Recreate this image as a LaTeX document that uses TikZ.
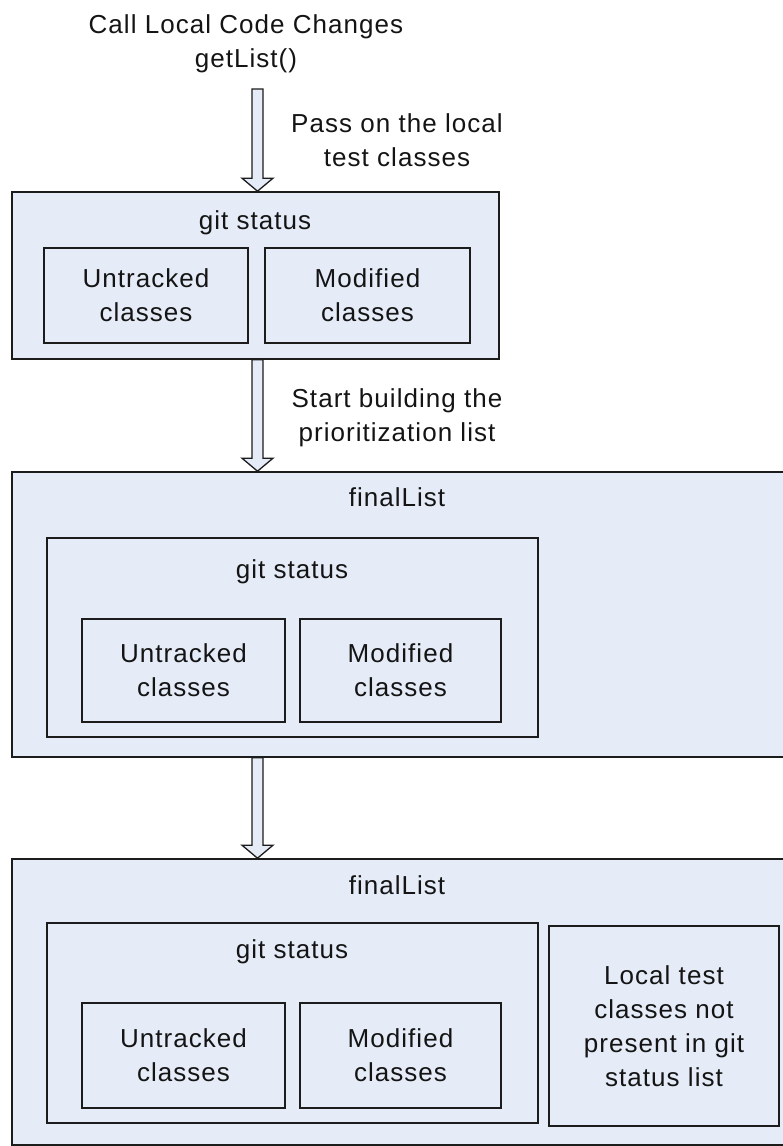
\documentclass[tikz,border=0pt]{standalone}
\usepackage{fontspec}
\setmainfont{Liberation Sans}[LetterSpace=4]
\usetikzlibrary{calc}
\definecolor{boxfill}{HTML}{E5ECF7}
\definecolor{edge}{HTML}{1C1C1C}
% hollow block arrow from the start point #1 down to the tip #2
\newcommand{\hollowarrow}[2]{%
  \filldraw[blockarrow]
    ($(#1)+(-5.5,0)$) -- ($(#2)+(-5.5,-13)$) -- ($(#2)+(-15.5,-13)$) -- (#2)
    -- ($(#2)+(15.5,-13)$) -- ($(#2)+(5.5,-13)$) -- ($(#1)+(5.5,0)$) -- cycle;}
\begin{document}
\begin{tikzpicture}[x=1pt,y=-1pt,
  every node/.style={font=\fontsize{26}{34}\selectfont, text=black!92, align=center, inner sep=0pt},
  panel/.style={draw=edge, line width=1.6pt, fill=boxfill, inner sep=0pt},
  blockarrow/.style={draw=edge, line width=1.3pt, fill=boxfill, line join=miter}]
\useasboundingbox (0,0) rectangle (783,1146);

% heading and step labels
\node (title) at (246,44) {Call Local Code Changes\\getList()};
\node (lab1) at (397,140) {Pass on the local\\test classes};
\node (lab2) at (397,418) {Start building the\\prioritization list};

% first panel: git status
\node[panel, minimum width=487pt, minimum height=167pt] (b1) at (255.5,275.5) {};
\node (b1t) at (255,223) {git status};
\node[panel, minimum width=204pt, minimum height=95pt] (u1) at (146,295.5) {Untracked\\classes};
\node[panel, minimum width=205pt, minimum height=95pt] (m1) at (367.5,295.5) {Modified\\classes};

% second panel: finalList holding git status
\node[panel, minimum width=774pt, minimum height=285pt] (b2) at (399,614.5) {};
\node (b2t) at (397,497) {finalList};
\node[panel, minimum width=491pt, minimum height=199pt] (g2) at (292.5,637.5) {};
\node (g2t) at (292,572) {git status};
\node[panel, minimum width=203pt, minimum height=103pt] (u2) at (183.5,670.5) {Untracked\\classes};
\node[panel, minimum width=201pt, minimum height=103pt] (m2) at (400.5,670.5) {Modified\\classes};

% third panel: finalList with the remaining local classes
\node[panel, minimum width=774pt, minimum height=286pt] (b3) at (399,1002) {};
\node (b3t) at (397,885) {finalList};
\node[panel, minimum width=491pt, minimum height=200pt] (g3) at (292.5,1023) {};
\node (g3t) at (292,952) {git status};
\node[panel, minimum width=203pt, minimum height=105pt] (u3) at (183.5,1055.5) {Untracked\\classes};
\node[panel, minimum width=201pt, minimum height=105pt] (m3) at (400.5,1055.5) {Modified\\classes};
\node[panel, minimum width=230pt, minimum height=200pt] (loc) at (664,1026) {Local test\\classes not\\present in git\\status list};

% connectors
\coordinate (a1) at (257.5,89);
\coordinate (t1) at (a1 |- b1.north);
\coordinate (s2) at (a1 |- b1.south);
\coordinate (t2) at (a1 |- b2.north);
\coordinate (s3) at (a1 |- b2.south);
\coordinate (t3) at (a1 |- b3.north);
\hollowarrow{a1}{t1}
\hollowarrow{s2}{t2}
\hollowarrow{s3}{t3}
\end{tikzpicture}
\end{document}
